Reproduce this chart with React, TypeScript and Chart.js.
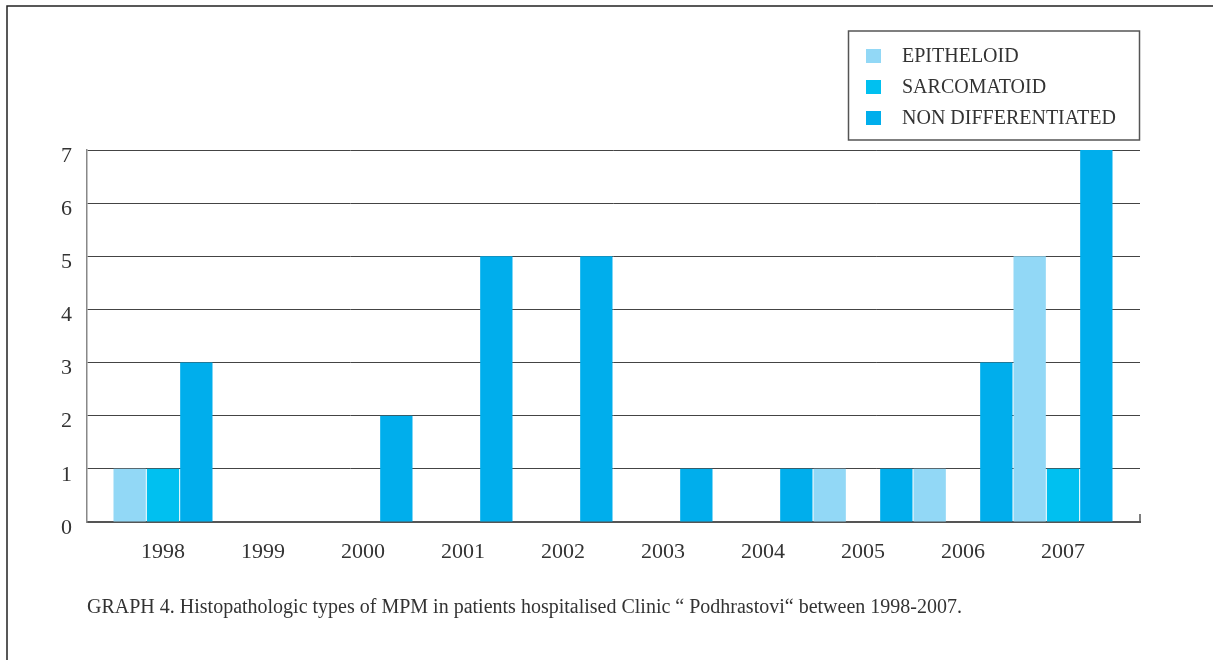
import React, { useEffect, useRef } from "react";
import { Chart, registerables } from "chart.js";

Chart.register(...registerables);

const years = ["1998", "1999", "2000", "2001", "2002", "2003", "2004", "2005", "2006", "2007"];
const epitheloid = [1, 0, 0, 0, 0, 0, 0, 1, 1, 5];
const sarcomatoid = [1, 0, 0, 0, 0, 0, 0, 0, 0, 1];
const nonDifferentiated = [3, 0, 2, 5, 5, 1, 1, 1, 3, 7];
const seriesNames = ["EPITHELOID", "SARCOMATOID", "NON DIFFERENTIATED"];
const seriesColors = ["#92d8f6", "#00c0f0", "#00aeec"];
const yTicks = [0, 1, 2, 3, 4, 5, 6, 7];
const caption = "GRAPH 4. Histopathologic types of MPM in patients hospitalised Clinic \u201C Podhrastovi\u201C between 1998-2007.";

const FONT = "'Liberation Serif', 'Times New Roman', serif";

const decorPlugin = {
  id: "decor",
  afterDraw(chart: any) {
    const ctx = chart.ctx;
    const area = chart.chartArea;
    ctx.save();
    // outer frame (top and left)
    ctx.strokeStyle = "#222";
    ctx.lineWidth = 1.5;
    ctx.beginPath();
    ctx.moveTo(7, 660);
    ctx.lineTo(7, 6);
    ctx.lineTo(1213, 6);
    ctx.stroke();
    // small tick at right end of x axis
    ctx.strokeStyle = "#555";
    ctx.lineWidth = 1.5;
    ctx.beginPath();
    ctx.moveTo(area.right, area.bottom - 8);
    ctx.lineTo(area.right, area.bottom + 1);
    ctx.stroke();
    // legend box
    ctx.strokeStyle = "#555";
    ctx.lineWidth = 1.5;
    ctx.strokeRect(848.5, 31, 291, 109);
    ctx.font = "20px " + FONT;
    ctx.textBaseline = "middle";
    ctx.textAlign = "left";
    const ys = [56, 87, 118];
    chart.data.datasets.forEach((ds: any, i: number) => {
      ctx.fillStyle = ds.backgroundColor;
      ctx.fillRect(866, ys[i] - 7, 15, 14);
      ctx.fillStyle = "#333";
      ctx.fillText(ds.label, 902, ys[i] + 1);
    });
    // caption
    ctx.font = "20px " + FONT;
    ctx.textBaseline = "alphabetic";
    ctx.fillStyle = "#333";
    ctx.fillText(caption, 87, 613);
    ctx.restore();
  },
};

export default function App() {
  const ref = useRef<HTMLCanvasElement | null>(null);
  useEffect(() => {
    if (!ref.current) return;
    const seriesData = [epitheloid, sarcomatoid, nonDifferentiated];
    const chart = new Chart(ref.current, {
      type: "bar",
      data: {
        datasets: seriesData.map((vals, i) => ({
          label: seriesNames[i],
          data: vals.map((v, j) => ({ x: j, y: v })),
          backgroundColor: seriesColors[i],
          borderWidth: 0,
          barPercentage: 0.97,
          categoryPercentage: 1,
        })),
      },
      options: {
        animation: false,
        responsive: false,
        layout: { padding: { left: 0, top: 150, right: 73, bottom: 0 } },
        plugins: { legend: { display: false }, tooltip: { enabled: false } },
        scales: {
          x: {
            type: "linear",
            offset: false,
            min: -0.76,
            max: 9.77,
            grid: { display: false, drawTicks: false },
            border: { display: true, color: "#555", width: 2 },
            afterBuildTicks: (scale: any) => {
              scale.ticks = years.map((_, i) => ({ value: i }));
            },
            afterFit: (scale: any) => {
              scale.height = 138;
              scale.paddingLeft = 0;
              scale.paddingRight = 0;
            },
            ticks: {
              autoSkip: false,
              maxRotation: 0,
              padding: 17,
              color: "#333",
              font: { family: FONT, size: 22 },
              callback: (v: any) => years[Math.round(Number(v))] ?? "",
            },
          },
          y: {
            min: 0,
            max: 7,
            afterBuildTicks: (scale: any) => {
              scale.ticks = yTicks.map((v) => ({ value: v }));
            },
            afterFit: (scale: any) => {
              scale.width = 87;
              scale.paddingTop = 0;
              scale.paddingBottom = 0;
            },
            grid: { color: "#444", lineWidth: 1, drawTicks: false },
            border: { display: true, color: "#888", width: 1.5 },
            ticks: {
              padding: 15,
              labelOffset: 6,
              color: "#333",
              font: { family: FONT, size: 22 },
            },
          },
        },
      },
      plugins: [decorPlugin],
    } as any);
    return () => chart.destroy();
  }, []);
  return (
    <div style={{ position: "absolute", left: 0, top: 0, width: 1213, height: 660, background: "#fff" }}>
      <canvas ref={ref} width={1213} height={660} style={{ display: "block" }} />
    </div>
  );
}
